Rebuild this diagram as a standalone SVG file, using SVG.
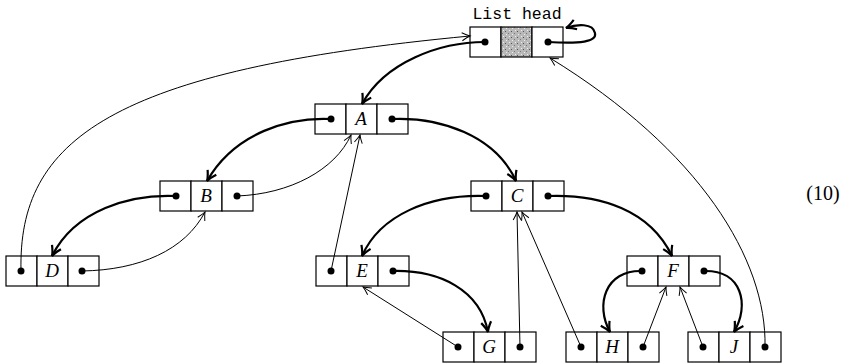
<svg xmlns="http://www.w3.org/2000/svg" width="863" height="363" viewBox="0 0 863 363">
<style>
.cell{fill:#fff;stroke:#000;stroke-width:1.2}
.dot{fill:#000}
.lbl{font-family:"Liberation Serif",serif;font-style:italic;font-size:19px;text-anchor:middle}
.thick{fill:none;stroke:#000;stroke-width:2.2}
.thin{fill:none;stroke:#000;stroke-width:1}
</style>
<defs>
<pattern id="speck" width="6" height="6" patternUnits="userSpaceOnUse">
<rect width="6" height="6" fill="#b8b8b8"/>
<rect x="1" y="1" width="1" height="1" fill="#555"/>
<rect x="4" y="3" width="1" height="1" fill="#777"/>
<rect x="2" y="4" width="1" height="1" fill="#eee"/>
<rect x="5" y="0" width="1" height="1" fill="#eee"/>
</pattern>
<marker id="ak" markerUnits="userSpaceOnUse" markerWidth="14" markerHeight="14" refX="0" refY="0" viewBox="-12 -7 14 14" orient="auto" overflow="visible">
<path d="M-10,-5 Q-4,-1 0,0 Q-4,1 -10,5" fill="none" stroke="#000" stroke-width="2.2"/>
</marker>
<marker id="an" markerUnits="userSpaceOnUse" markerWidth="12" markerHeight="12" refX="0" refY="0" viewBox="-10 -6 12 12" orient="auto" overflow="visible">
<path d="M-8,-4 Q-3,-1 0,0 Q-3,1 -8,4" fill="none" stroke="#000" stroke-width="1"/>
</marker>
</defs>

<text x="517" y="19" font-family="'Liberation Mono',monospace" font-size="16.5" text-anchor="middle">List head</text>
<text x="823" y="200" font-family="'Liberation Serif',serif" font-size="20" text-anchor="middle">(10)</text>

<g id="head">
<rect class="cell" x="470" y="27" width="31" height="30"/>
<rect x="501" y="27" width="31" height="30" fill="url(#speck)" stroke="#000" stroke-width="1.2"/>
<rect class="cell" x="532" y="27" width="31" height="30"/>
<circle class="dot" cx="485" cy="42" r="3.5"/>
<circle class="dot" cx="548" cy="42" r="3.5"/>
</g>
<g id="A">
<rect class="cell" x="315" y="104" width="31" height="30"/>
<rect class="cell" x="346" y="104" width="31" height="30"/>
<rect class="cell" x="377" y="104" width="31" height="30"/>
<circle class="dot" cx="331" cy="119" r="3.5"/>
<circle class="dot" cx="392" cy="119" r="3.5"/>
<text class="lbl" x="361" y="125">A</text>
</g>
<g id="B">
<rect class="cell" x="160" y="181" width="31" height="30"/>
<rect class="cell" x="191" y="181" width="31" height="30"/>
<rect class="cell" x="222" y="181" width="31" height="30"/>
<circle class="dot" cx="176" cy="196" r="3.5"/>
<circle class="dot" cx="237" cy="196" r="3.5"/>
<text class="lbl" x="206" y="202">B</text>
</g>
<g id="C">
<rect class="cell" x="471" y="181" width="31" height="30"/>
<rect class="cell" x="502" y="181" width="31" height="30"/>
<rect class="cell" x="533" y="181" width="31" height="30"/>
<circle class="dot" cx="486" cy="196" r="3.5"/>
<circle class="dot" cx="548" cy="196" r="3.5"/>
<text class="lbl" x="517" y="202">C</text>
</g>
<g id="D">
<rect class="cell" x="6" y="256" width="31" height="30"/>
<rect class="cell" x="37" y="256" width="31" height="30"/>
<rect class="cell" x="68" y="256" width="31" height="30"/>
<circle class="dot" cx="21" cy="271" r="3.5"/>
<circle class="dot" cx="82" cy="271" r="3.5"/>
<text class="lbl" x="52" y="277">D</text>
</g>
<g id="E">
<rect class="cell" x="316" y="256" width="31" height="30"/>
<rect class="cell" x="347" y="256" width="31" height="30"/>
<rect class="cell" x="378" y="256" width="31" height="30"/>
<circle class="dot" cx="331" cy="271" r="3.5"/>
<circle class="dot" cx="393" cy="271" r="3.5"/>
<text class="lbl" x="362" y="277">E</text>
</g>
<g id="F">
<rect class="cell" x="627" y="256" width="31" height="30"/>
<rect class="cell" x="658" y="256" width="31" height="30"/>
<rect class="cell" x="689" y="256" width="31" height="30"/>
<circle class="dot" cx="642" cy="271" r="3.5"/>
<circle class="dot" cx="704" cy="271" r="3.5"/>
<text class="lbl" x="673" y="277">F</text>
</g>
<g id="G">
<rect class="cell" x="443" y="332" width="31" height="30"/>
<rect class="cell" x="474" y="332" width="31" height="30"/>
<rect class="cell" x="505" y="332" width="31" height="30"/>
<circle class="dot" cx="458" cy="347" r="3.5"/>
<circle class="dot" cx="520" cy="347" r="3.5"/>
<text class="lbl" x="489" y="353">G</text>
</g>
<g id="H">
<rect class="cell" x="566" y="332" width="31" height="30"/>
<rect class="cell" x="597" y="332" width="31" height="30"/>
<rect class="cell" x="628" y="332" width="31" height="30"/>
<circle class="dot" cx="581" cy="347" r="3.5"/>
<circle class="dot" cx="643" cy="347" r="3.5"/>
<text class="lbl" x="612" y="353">H</text>
</g>
<g id="J">
<rect class="cell" x="688" y="332" width="31" height="30"/>
<rect class="cell" x="719" y="332" width="31" height="30"/>
<rect class="cell" x="750" y="332" width="31" height="30"/>
<circle class="dot" cx="703" cy="347" r="3.5"/>
<circle class="dot" cx="765" cy="347" r="3.5"/>
<text class="lbl" x="734" y="353">J</text>
</g>

<g id="connectors">
<path class="thick" marker-end="url(#ak)" d="M485,42 C440,42 385,62 362,104"/>
<path class="thick" marker-end="url(#ak)" d="M548,42 C580,44 597,42 595,33 C593,23 577,24 566,28"/>
<path class="thick" marker-end="url(#ak)" d="M331,119 C290,117 235,132 207,181"/>
<path class="thick" marker-end="url(#ak)" d="M392,119 C440,117 495,135 516,181"/>
<path class="thick" marker-end="url(#ak)" d="M176,196 C130,194 75,210 52,256"/>
<path class="thick" marker-end="url(#ak)" d="M486,196 C430,194 380,215 362,256"/>
<path class="thick" marker-end="url(#ak)" d="M548,196 C600,194 650,210 672,256"/>
<path class="thick" marker-end="url(#ak)" d="M393,271 C440,270 480,290 488,332"/>
<path class="thick" marker-end="url(#ak)" d="M642,271 C605,270 595,305 610,332"/>
<path class="thick" marker-end="url(#ak)" d="M704,271 C742,270 750,305 734,332"/>

<path class="thin" marker-end="url(#an)" d="M21,271 C18,140 110,70 470,36"/>
<path class="thin" marker-end="url(#an)" d="M82,271 C140,270 185,250 205,212"/>
<path class="thin" marker-end="url(#an)" d="M237,196 C290,194 335,170 351,135"/>
<path class="thin" marker-end="url(#an)" d="M331,271 L360,135"/>
<path class="thin" marker-end="url(#an)" d="M458,347 L363,287"/>
<path class="thin" marker-end="url(#an)" d="M520,347 L517,212"/>
<path class="thin" marker-end="url(#an)" d="M581,347 L522,212"/>
<path class="thin" marker-end="url(#an)" d="M643,347 L666,287"/>
<path class="thin" marker-end="url(#an)" d="M703,347 L680,287"/>
<path class="thin" marker-end="url(#an)" d="M765,347 C767,260 700,150 550,58"/>
</g>
</svg>
